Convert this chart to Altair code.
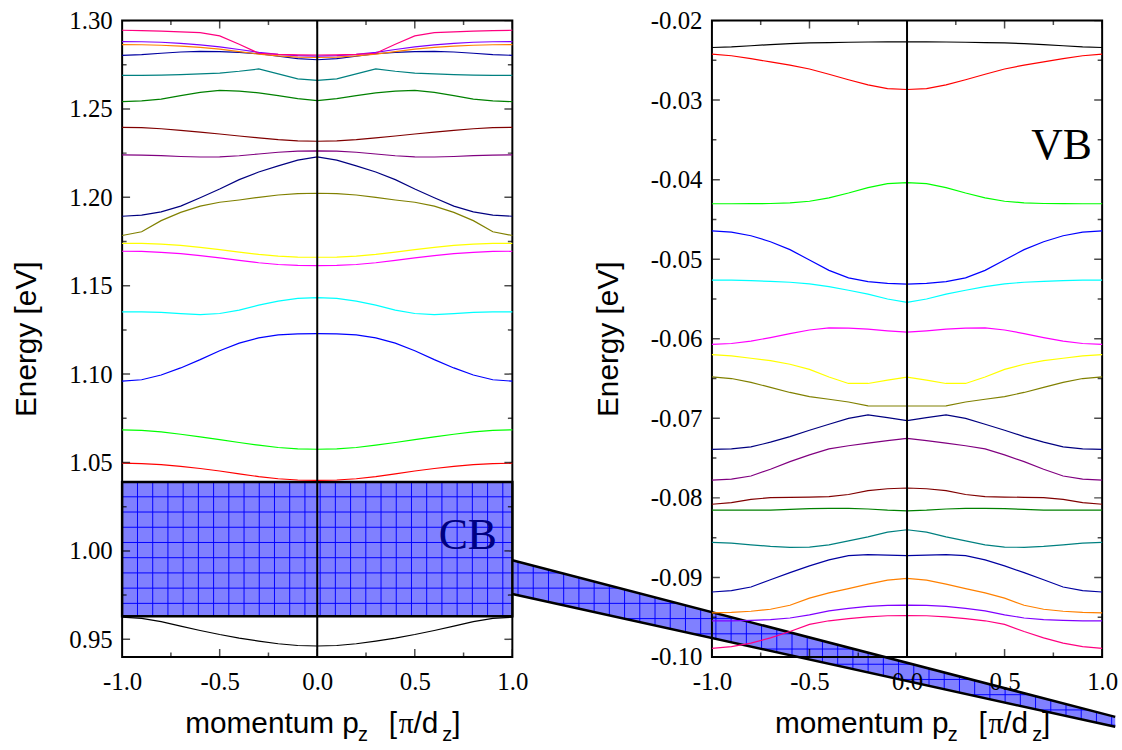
import altair as alt
import numpy as np
import pandas as pd

# ---------------- data ----------------
# momentum grid for one half (the dispersions are symmetric in p_z)
K_HALF = [0.0, 0.1, 0.2, 0.3, 0.4, 0.5, 0.6, 0.7, 0.8, 0.9, 1.0]

BAND_COLORS = ["#000000", "#ff0000", "#00ff00", "#0000ff", "#00ffff", "#ff00ff",
               "#ffff00", "#808000", "#000080", "#800080", "#800000", "#008000",
               "#008080", "#0000a0", "#ff8000", "#8000ff", "#ff0080"]

# conduction band levels [eV] at K_HALF
cb01 = [0.9462, 0.9465, 0.9475, 0.9490, 0.9507, 0.9527, 0.9550, 0.9575, 0.9600, 0.9618, 0.9625]
cb02 = [1.0399, 1.0401, 1.0408, 1.0420, 1.0436, 1.0452, 1.0466, 1.0478, 1.0488, 1.0494, 1.0496]
cb03 = [1.0575, 1.0577, 1.0585, 1.0598, 1.0613, 1.0629, 1.0645, 1.0660, 1.0673, 1.0682, 1.0685]
cb04 = [1.1229, 1.1228, 1.1222, 1.1205, 1.1175, 1.1132, 1.1082, 1.1035, 1.0995, 1.0968, 1.0960]
cb05 = [1.1433, 1.1428, 1.1413, 1.1390, 1.1362, 1.1343, 1.1337, 1.1342, 1.1349, 1.1352, 1.1352]
cb06 = [1.1614, 1.1615, 1.1620, 1.1630, 1.1643, 1.1657, 1.1670, 1.1681, 1.1689, 1.1694, 1.1695]
cb07 = [1.1661, 1.1662, 1.1667, 1.1677, 1.1690, 1.1704, 1.1717, 1.1728, 1.1735, 1.1739, 1.1740]
cb08 = [1.2023, 1.2021, 1.2013, 1.2000, 1.1985, 1.1972, 1.1950, 1.1915, 1.1868, 1.1805, 1.1784]
cb09 = [1.2229, 1.2210, 1.2178, 1.2143, 1.2100, 1.2047, 1.1998, 1.1950, 1.1918, 1.1899, 1.1893]
cb10 = [1.2263, 1.2261, 1.2255, 1.2245, 1.2235, 1.2229, 1.2228, 1.2231, 1.2236, 1.2239, 1.2240]
cb11 = [1.2317, 1.2319, 1.2326, 1.2336, 1.2347, 1.2358, 1.2369, 1.2379, 1.2388, 1.2394, 1.2396]
cb12 = [1.2547, 1.2558, 1.2575, 1.2591, 1.2601, 1.2605, 1.2594, 1.2575, 1.2555, 1.2545, 1.2541]
cb13 = [1.2662, 1.2670, 1.2698, 1.2726, 1.2713, 1.2703, 1.2698, 1.2694, 1.2691, 1.2690, 1.2690]
cb14 = [1.2778, 1.2784, 1.2798, 1.2812, 1.2820, 1.2824, 1.2825, 1.2822, 1.2815, 1.2807, 1.2803]
cb15 = [1.2791, 1.2793, 1.2800, 1.2810, 1.2824, 1.2838, 1.2848, 1.2855, 1.2860, 1.2863, 1.2864]
cb16 = [1.2799, 1.2801, 1.2809, 1.2820, 1.2836, 1.2851, 1.2862, 1.2871, 1.2877, 1.2880, 1.2881]
cb17 = [1.2805, 1.2806, 1.2809, 1.2815, 1.2866, 1.2913, 1.2932, 1.2936, 1.2940, 1.2943, 1.2945]
CB_LEVELS = [cb01, cb02, cb03, cb04, cb05, cb06, cb07, cb08, cb09, cb10, cb11, cb12,
             cb13, cb14, cb15, cb16, cb17]

# valence band levels [eV] at K_HALF
vb01 = [-0.02268, -0.02268, -0.02270, -0.02273, -0.02277, -0.02282, -0.02290, -0.02302, -0.02317, -0.02331, -0.02339]
vb02 = [-0.02867, -0.02855, -0.02808, -0.02744, -0.02675, -0.02609, -0.02560, -0.02520, -0.02480, -0.02443, -0.02422]
vb03 = [-0.04037, -0.04050, -0.04100, -0.04168, -0.04230, -0.04272, -0.04292, -0.04300, -0.04302, -0.04303, -0.04303]
vb04 = [-0.05314, -0.05305, -0.05281, -0.05235, -0.05140, -0.05010, -0.04880, -0.04780, -0.04705, -0.04660, -0.04644]
vb05 = [-0.05542, -0.05500, -0.05440, -0.05390, -0.05345, -0.05310, -0.05290, -0.05278, -0.05270, -0.05264, -0.05262]
vb06 = [-0.05917, -0.05900, -0.05880, -0.05866, -0.05863, -0.05890, -0.05935, -0.05985, -0.06030, -0.06060, -0.06071]
vb07 = [-0.06483, -0.06520, -0.06562, -0.06562, -0.06480, -0.06385, -0.06320, -0.06275, -0.06245, -0.06215, -0.06200]
vb08 = [-0.06845, -0.06845, -0.06843, -0.06795, -0.06760, -0.06727, -0.06675, -0.06612, -0.06548, -0.06500, -0.06478]
vb09 = [-0.07028, -0.06992, -0.06957, -0.07000, -0.07075, -0.07150, -0.07230, -0.07300, -0.07360, -0.07383, -0.07390]
vb10 = [-0.07253, -0.07280, -0.07313, -0.07345, -0.07385, -0.07460, -0.07545, -0.07640, -0.07725, -0.07765, -0.07777]
vb11 = [-0.07876, -0.07885, -0.07910, -0.07958, -0.07985, -0.07990, -0.07993, -0.07997, -0.08020, -0.08060, -0.08080]
vb12 = [-0.08163, -0.08155, -0.08140, -0.08132, -0.08131, -0.08135, -0.08145, -0.08153, -0.08155, -0.08155, -0.08155]
vb13 = [-0.08401, -0.08430, -0.08490, -0.08540, -0.08590, -0.08618, -0.08622, -0.08610, -0.08590, -0.08570, -0.08559]
vb14 = [-0.08725, -0.08720, -0.08713, -0.08725, -0.08780, -0.08855, -0.08940, -0.09030, -0.09120, -0.09165, -0.09183]
vb15 = [-0.09012, -0.09035, -0.09085, -0.09140, -0.09195, -0.09260, -0.09350, -0.09400, -0.09425, -0.09440, -0.09445]
vb16 = [-0.09349, -0.09352, -0.09365, -0.09390, -0.09420, -0.09470, -0.09510, -0.09530, -0.09540, -0.09545, -0.09545]
vb17 = [-0.09479, -0.09482, -0.09495, -0.09517, -0.09545, -0.09590, -0.09680, -0.09760, -0.09825, -0.09870, -0.09891]
VB_LEVELS = [vb01, vb02, vb03, vb04, vb05, vb06, vb07, vb08, vb09, vb10, vb11, vb12,
             vb13, vb14, vb15, vb16, vb17]

X_MAJOR = [-1.0, -0.5, 0.0, 0.5, 1.0]
X_MINOR = [-0.75, -0.25, 0.25, 0.75]
CB_DOMAIN = [0.94, 1.30]
CB_Y_MAJOR = [0.95, 1.00, 1.05, 1.10, 1.15, 1.20, 1.25, 1.30]
CB_Y_MINOR = [0.975, 1.025, 1.075, 1.125, 1.175, 1.225, 1.275]
VB_DOMAIN = [-0.10, -0.02]
VB_Y_MAJOR = [-0.10, -0.09, -0.08, -0.07, -0.06, -0.05, -0.04, -0.03, -0.02]
VB_Y_MINOR = [-0.095, -0.085, -0.075, -0.065, -0.055, -0.045, -0.035, -0.025]

# CB box (energy window) and its zoom wedge, in left-panel data units
CB_BOX_E = [0.963, 1.039]
WEDGE_K = [1.0, 4.09]
WEDGE_TOP = [0.9947, 0.9061]
WEDGE_BOTTOM = [0.9756, 0.9005]

# ---------------- styling / layout ----------------
W, H = 393, 641
SERIF = "Liberation Serif"
SANS = "Liberation Sans"
FILL = "#8080ff"
HATCH = "#0000ff"
PAT_PX = 15.33          # hatch pitch in pixels
PAT_K0, PAT_E0 = 0.561, 1.0306   # hatch anchor
LABEL_SIZE = 25


def x_axis():
    return alt.Axis(values=X_MAJOR, format=".1f",
                    ticks=False, domain=False, grid=False, title="",
                    labelFont=SERIF, labelFontSize=LABEL_SIZE, labelColor="black",
                    labelPadding=13, labelFlush=False, labelOverlap=False)


def y_axis(vals):
    return alt.Axis(values=vals, format=".2f",
                    ticks=False, domain=False, grid=False,
                    title="Energy [eV]", titleFont=SANS, titleFontSize=30,
                    titleFontWeight="normal", titleColor="black", titlePadding=27,
                    labelFont=SERIF, labelFontSize=LABEL_SIZE, labelColor="black",
                    labelPadding=10, labelOverlap=False)


def levels_df(levels):
    rows = []
    ks = [-k for k in K_HALF[:0:-1]] + K_HALF
    for i, half in enumerate(levels):
        es = half[:0:-1] + half
        for k, e in zip(ks, es):
            rows.append({"k": k, "E": e, "band": i})
    return pd.DataFrame(rows)


def title_layers():
    pieces = [("momentum p", 63.5, 717.5, SANS, 30),
              ("z", 237.5, 725.5, SANS, 20),
              ("[", 268.5, 717.5, SANS, 30),
              ("\u03c0", 278.5, 717.5, SERIF, 30),
              ("/d", 293.5, 717.5, SANS, 30),
              ("z", 322.5, 725.5, SANS, 20),
              ("]", 332.5, 717.5, SANS, 30)]
    one = pd.DataFrame({"i": [0]})
    out = []
    for text, px, py, font, size in pieces:
        out.append(alt.Chart(one).mark_text(text=text, font=font, fontSize=size, align="left",
                                            baseline="alphabetic", color="black").encode(
            x=alt.value(px), y=alt.value(py)))
    return out


def panel(levels, ydom, ymaj, ymin, label, label_pos, label_color, with_box):
    xs = alt.Scale(domain=[-1, 1], nice=False, zero=False)
    ys = alt.Scale(domain=ydom, nice=False, zero=False)
    xa, ya = x_axis(), y_axis(ymaj)

    def X(f):
        return alt.X(f, scale=xs, axis=xa)

    def Y(f):
        return alt.Y(f, scale=ys, axis=ya)

    layers = []
    if with_box:
        layers += cb_box_layers(X, Y)

    lines = alt.Chart(levels_df(levels)).mark_line(strokeWidth=1.2).encode(
        x=X("k:Q"), y=Y("E:Q"),
        color=alt.Color("band:N", scale=alt.Scale(domain=list(range(17)), range=BAND_COLORS),
                        legend=None),
        order="k:Q",
    )
    zero = alt.Chart(pd.DataFrame({"k": [0.0]})).mark_rule(color="black", strokeWidth=2).encode(
        x=X("k:Q"))
    layers += [lines, zero]

    # inward ticks on all four sides
    for vals, size in ((X_MAJOR, 16), (X_MINOR, 9)):
        d = pd.DataFrame({"p": vals * 2, "e": [ydom[0]] * len(vals) + [ydom[1]] * len(vals)})
        layers.append(alt.Chart(d).mark_tick(orient="vertical", size=size, thickness=1.5,
                                             color="black", clip=True).encode(
            x=X("p:Q"), y=Y("e:Q")))
    for vals, size in ((ymaj, 16), (ymin, 9)):
        d = pd.DataFrame({"p": vals * 2, "e": [-1.0] * len(vals) + [1.0] * len(vals)})
        layers.append(alt.Chart(d).mark_tick(orient="horizontal", size=size, thickness=1.5,
                                             color="black", clip=True).encode(
            x=X("e:Q"), y=Y("p:Q")))

    txt = alt.Chart(pd.DataFrame({"k": [label_pos[0]], "E": [label_pos[1]], "t": [label]})).mark_text(
        font=SERIF, fontSize=44, color=label_color, align="center", baseline="alphabetic").encode(
        x=X("k:Q"), y=Y("E:Q"), text="t:N")
    layers.append(txt)
    layers += title_layers()
    return alt.layer(*layers).properties(width=W, height=H)


def cb_box_layers(X, Y):
    dk = PAT_PX * 2.0 / W
    de = PAT_PX * (CB_DOMAIN[1] - CB_DOMAIN[0]) / H
    k_lines = PAT_K0 + dk * np.arange(-40, 60)
    e_lines = PAT_E0 + de * np.arange(-40, 40)

    k0, k1 = WEDGE_K
    t0, t1 = WEDGE_TOP
    b0, b1 = WEDGE_BOTTOM
    st = (t1 - t0) / (k1 - k0)
    sb = (b1 - b0) / (k1 - k0)

    wedge = pd.DataFrame({"k": WEDGE_K, "top": WEDGE_TOP, "bot": WEDGE_BOTTOM})
    wedge_area = alt.Chart(wedge).mark_area(color=FILL, opacity=1).encode(
        x=X("k:Q"), y=Y("top:Q"), y2="bot:Q")
    wk = k_lines[(k_lines > k0 + 0.005) & (k_lines < k1)]
    wv = pd.DataFrame({"k": wk, "y1": t0 + st * (wk - k0), "y2": b0 + sb * (wk - k0)})
    rows = []
    for e in e_lines:
        if b1 < e < t0:
            xa = max(k0, k0 + (e - b0) / sb)
            xb = min(k1, k0 + (e - t0) / st)
            if xb > xa:
                rows.append({"x1": xa, "x2": xb, "e": e})
    wh = pd.DataFrame(rows)
    wedge_v = alt.Chart(wv).mark_rule(color=HATCH, strokeWidth=1).encode(
        x=X("k:Q"), y=Y("y1:Q"), y2="y2:Q")
    wedge_h = alt.Chart(wh).mark_rule(color=HATCH, strokeWidth=1).encode(
        x=X("x1:Q"), x2="x2:Q", y=Y("e:Q"))
    edges = pd.DataFrame({"k": WEDGE_K * 2, "E": WEDGE_TOP + WEDGE_BOTTOM,
                          "edge": ["top", "top", "bottom", "bottom"]})
    wedge_edges = alt.Chart(edges).mark_line(color="black", strokeWidth=2.5).encode(
        x=X("k:Q"), y=Y("E:Q"), detail="edge:N")

    box = pd.DataFrame({"k1": [-1.0], "k2": [1.0], "e1": [CB_BOX_E[0]], "e2": [CB_BOX_E[1]]})
    box_fill = alt.Chart(box).mark_rect(color=FILL, opacity=1).encode(
        x=X("k1:Q"), x2="k2:Q", y=Y("e1:Q"), y2="e2:Q")
    bk = k_lines[(k_lines > -0.995) & (k_lines < 0.995)]
    bv = pd.DataFrame({"k": bk, "y1": CB_BOX_E[0], "y2": CB_BOX_E[1]})
    be = e_lines[(e_lines > CB_BOX_E[0] + 0.001) & (e_lines < CB_BOX_E[1] - 0.001)]
    bh = pd.DataFrame({"e": be, "x1": -1.0, "x2": 1.0})
    box_v = alt.Chart(bv).mark_rule(color=HATCH, strokeWidth=1).encode(
        x=X("k:Q"), y=Y("y1:Q"), y2="y2:Q")
    box_h = alt.Chart(bh).mark_rule(color=HATCH, strokeWidth=1).encode(
        x=X("x1:Q"), x2="x2:Q", y=Y("e:Q"))
    box_line = alt.Chart(box).mark_rect(fillOpacity=0, stroke="black", strokeWidth=2.5).encode(
        x=X("k1:Q"), x2="k2:Q", y=Y("e1:Q"), y2="e2:Q")
    return [wedge_area, wedge_v, wedge_h, wedge_edges, box_fill, box_v, box_h, box_line]


left = panel(CB_LEVELS, CB_DOMAIN, CB_Y_MAJOR, CB_Y_MINOR, "CB", (0.772, 1.001), "#000080", True)
right = panel(VB_LEVELS, VB_DOMAIN, VB_Y_MAJOR, VB_Y_MINOR, "VB", (0.792, -0.03745), "black", False)

chart = alt.hconcat(left, right, spacing=201, bounds="flush").properties(
    padding={"left": 11, "top": 5, "right": 0, "bottom": 0}
).configure(
    locale={"number": {"decimal": ".", "thousands": ",", "grouping": [3],
                       "currency": ["", ""], "minus": "-"}}
).configure_view(stroke="black", strokeWidth=2)

chart.save("out.html", embed_options={"renderer": "svg", "actions": False})
